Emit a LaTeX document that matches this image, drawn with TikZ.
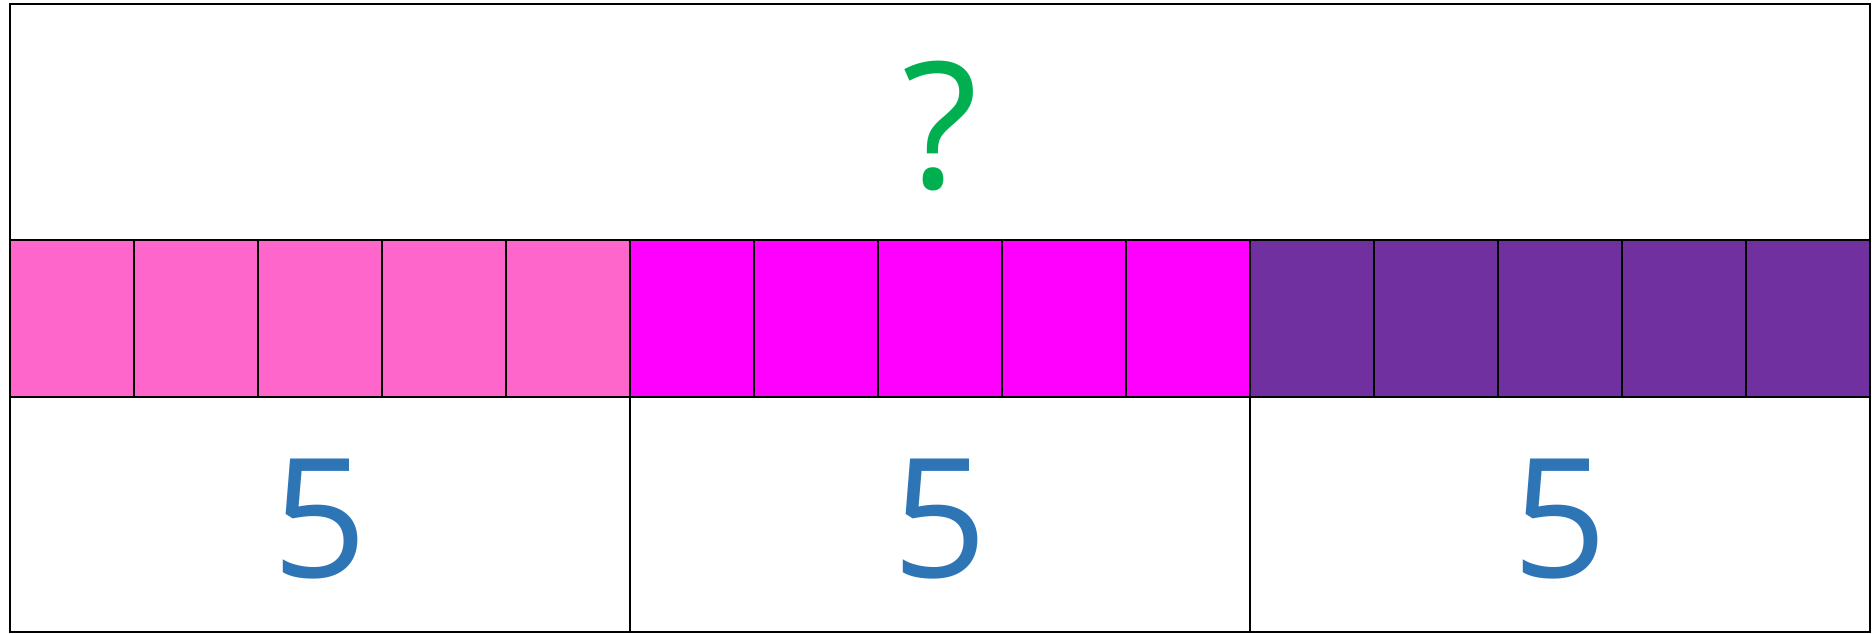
\documentclass[tikz,border=0pt]{standalone}
\usepackage{fontspec}
\setmainfont{Open Sans}
\definecolor{qgreen}{HTML}{00B050}
\definecolor{nblue}{HTML}{2E75B6}
\definecolor{cpink}{HTML}{FF66CC}
\definecolor{cmag}{HTML}{FF00FF}
\definecolor{cpurp}{HTML}{7030A0}
\begin{document}
\begin{tikzpicture}[x=0.5pt,y=-0.5pt,
  frame/.style={draw=black,line width=1pt},
  cell/.style={draw=black,line width=1pt},
  bigq/.style={font=\fontsize{88}{100}\selectfont,text=qgreen,anchor=base,inner sep=0pt},
  bignum/.style={font=\fontsize{83}{100}\selectfont,text=nblue,anchor=base,inner sep=0pt}]
\useasboundingbox (0,0) rectangle (1872,633);
\fill[white] (0,0) rectangle (1872,633);
% top box
\draw[frame] (10,4) rectangle (1870,240);
\node[bigq] (q) at (940,188) {?};
% cells
\foreach \i in {0,...,4} {
  \draw[cell,fill=cpink] ({10+124*\i},240) rectangle ({134+124*\i},397);
}
\foreach \i in {5,...,9} {
  \draw[cell,fill=cmag] ({10+124*\i},240) rectangle ({134+124*\i},397);
}
\foreach \i in {10,...,14} {
  \draw[cell,fill=cpurp] ({10+124*\i},240) rectangle ({134+124*\i},397);
}
% bottom boxes
\draw[frame] (10,397) rectangle (630,632);
\draw[frame] (630,397) rectangle (1250,632);
\draw[frame] (1250,397) rectangle (1870,632);
\node[bignum] (n1) at (320,577) {5};
\node[bignum] (n2) at (940,577) {5};
\node[bignum] (n3) at (1560,577) {5};
\end{tikzpicture}
\end{document}
